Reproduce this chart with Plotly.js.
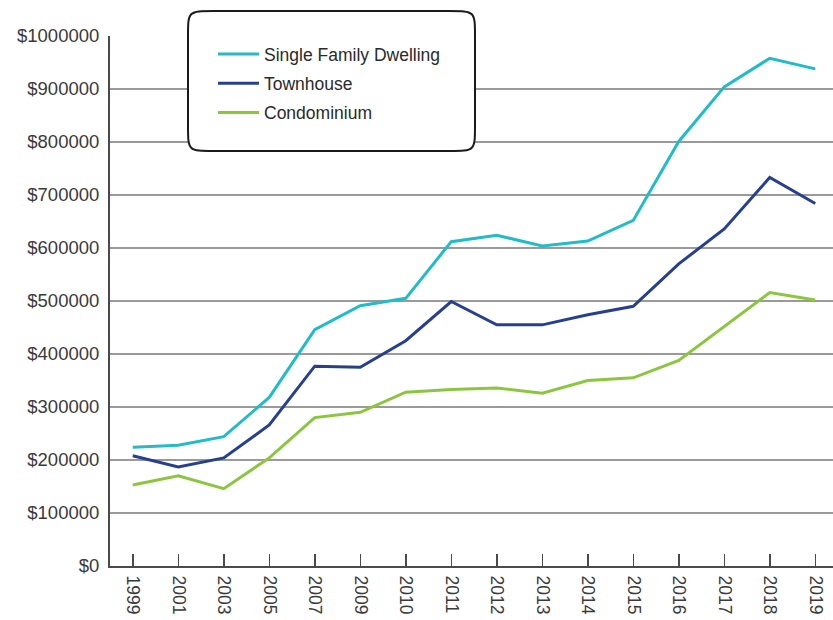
<!DOCTYPE html>
<html>
<head>
<meta charset="utf-8">
<script src="https://cdn.plot.ly/plotly-3.0.1.min.js"></script>
<style>html,body{margin:0;padding:0;background:#fff;}#chart{width:833px;height:620px;}</style>
</head>
<body>
<div id="chart"></div>
<script>
const years = ["1999","2001","2003","2005","2007","2009","2010","2011","2012","2013","2014","2015","2016","2017","2018","2019"];
const singleFamily = [224000, 228000, 244000, 318000, 446000, 491000, 505000, 612000, 624000, 604000, 613000, 652000, 801000, 904000, 958000, 938000];
const townhouse = [208000, 187000, 204000, 266000, 377000, 375000, 425000, 499000, 455000, 455000, 474000, 490000, 570000, 636000, 733000, 684000];
const condominium = [153000, 170000, 146000, 204000, 280000, 290000, 328000, 333000, 336000, 326000, 350000, 355000, 388000, 452000, 516000, 502000];
const yTicks = [0,100000,200000,300000,400000,500000,600000,700000,800000,900000,1000000];
const yTickText = yTicks.map(v => "$" + v);

const font = "Liberation Sans, Arial, Helvetica, sans-serif";
const traces = [
  {name:"Single Family Dwelling", x: years, y: singleFamily, color:"#20bcc8", group:"a"},
  {name:"Townhouse", x: years, y: townhouse, color:"#26408f", group:"b"},
  {name:"Condominium", x: years, y: condominium, color:"#8cc63f", group:"c"}
].map(t => ({type:"scatter", mode:"lines", name:t.name, x:t.x, y:t.y, legendgroup:t.group,
  line:{color:t.color, width:3}, hoverinfo:"skip"}));

// rounded legend frame (pixel to paper conversions)
const W = 723, H = 530, L = 110, B = 566;
const px = v => (v - L) / W, py = v => (B - v) / H;
const x0 = px(188), x1 = px(475), yT = py(11), yB = py(151);
const rx = 26 / W, ry = 26 / H;
const path = `M ${x0+rx},${yT} L ${x1-rx},${yT} C ${x1},${yT} ${x1},${yT} ${x1},${yT-ry} ` +
  `L ${x1},${yB+ry} C ${x1},${yB} ${x1},${yB} ${x1-rx},${yB} ` +
  `L ${x0+rx},${yB} C ${x0},${yB} ${x0},${yB} ${x0},${yB+ry} ` +
  `L ${x0},${yT-ry} C ${x0},${yT} ${x0},${yT} ${x0+rx},${yT} Z`;

const layout = {
  width: 833, height: 620,
  margin: {l: 110, r: 0, t: 36, b: 54, pad: 0},
  paper_bgcolor: "#fff", plot_bgcolor: "#fff",
  font: {family: font, size: 17, color: "#3a3a3a"},
  showlegend: true,
  legend: {x: px(213), y: py(36), xanchor: "left", yanchor: "top", bgcolor: "rgba(0,0,0,0)",
    borderwidth: 0, font: {family: font, size: 17.5, color: "#2a2a2a"}, itemwidth: 41,
    traceorder: "grouped", tracegroupgap: 3.5},
  xaxis: {type: "category", range: [-0.5, 15.39], showgrid: false, zeroline: false,
    showline: true, linecolor: "#4a4a4a", linewidth: 2,
    ticks: "inside", ticklen: 12, tickcolor: "#4a4a4a", tickwidth: 1.5,
    tickangle: 90, tickfont: {family: font, size: 17.5, color: "#3a3a3a"}, ticklabelstandoff: 4,
    fixedrange: true},
  yaxis: {range: [0, 1000000], tickmode: "array", tickvals: yTicks, ticktext: yTickText,
    showgrid: true, gridcolor: "#9a9a9a", gridwidth: 1.2, zeroline: false,
    showline: true, linecolor: "#4a4a4a", linewidth: 2, ticks: "",
    tickfont: {family: font, size: 18.5, color: "#3a3a3a"}, ticklabelstandoff: 5, fixedrange: true},
  shapes: [{type: "path", xref: "paper", yref: "paper", path: path, layer: "above",
    fillcolor: "#ffffff", line: {color: "#1a1a1a", width: 2}}]
};

Plotly.newPlot("chart", traces, layout, {displayModeBar: false, staticPlot: true});
</script>
</body>
</html>
